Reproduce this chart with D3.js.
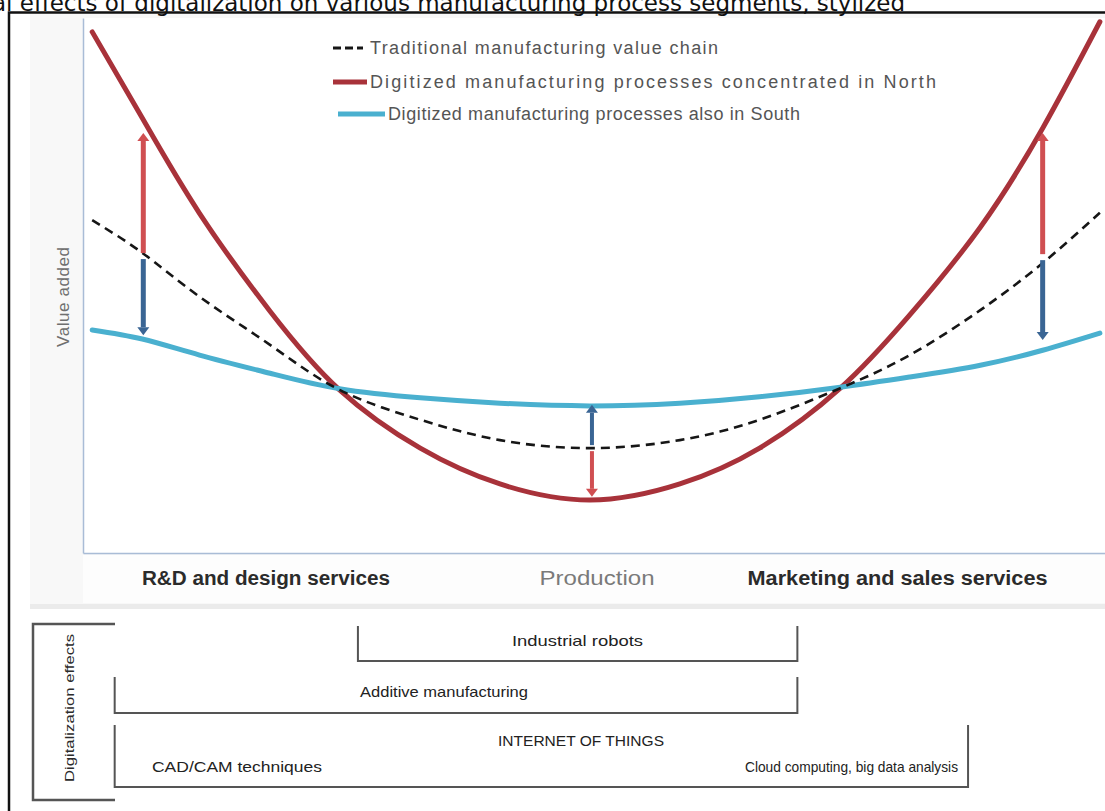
<!DOCTYPE html>
<html>
<head>
<meta charset="utf-8">
<script src="https://cdn.jsdelivr.net/npm/d3@7"></script>
<style>
  body { margin: 0; background: #fff; }
  svg { display: block; }
</style>
</head>
<body>
<svg width="1105" height="811"></svg>
<script>
// **** Values ****
var chainPos    = [0.9, 5.8, 11.4, 18.3, 25.1, 33.0, 40.8, 49.6, 58.4, 66.2, 74.1, 80.9, 87.8, 93.9, 99.5];
var traditional = [62.2, 56.1, 47.9, 38.9, 30.5, 24.9, 21.1, 19.6, 21.1, 24.9, 30.8, 37.0, 45.4, 54.2, 63.6];
var north       = [97.4, 81.3, 63.5, 45.2, 30.5, 19.6, 12.9, 9.9, 12.9, 19.6, 30.8, 44.5, 60.9, 79.4, 99.3];
var south       = [41.7, 40.0, 37.0, 33.6, 30.7, 29.0, 28.0, 27.5, 28.0, 29.2, 31.0, 32.9, 35.1, 37.9, 41.1];

var arrowPos   = [5.9, 49.8, 93.9];
var arrowBase  = [55.5, 19.6, 55.3];
var arrowNorth = [78.5, 10.5, 78.5];
var arrowSouth = [40.7, 27.7, 39.8];

var segmentLabels = ["R&D and design services", "Production", "Marketing and sales services"];
var segmentPos    = [17.9, 50.3, 79.7];

var legendLabels = ["Traditional manufacturing value chain",
                    "Digitized manufacturing processes concentrated in North",
                    "Digitized manufacturing processes also in South"];

var effectLabels = ["Industrial robots", "Additive manufacturing", "INTERNET OF THINGS"];
var effectStart  = [26.9, 3.1, 3.1];
var effectEnd    = [69.9, 69.9, 86.6];
var iotSubLabels = ["CAD/CAM techniques", "Cloud computing, big data analysis"];

var titleText = "Potential effects of digitalization on various manufacturing process segments, stylized";

// **** Scales ****
var xScale = d3.scaleLinear().domain([0, 100]).range([83, 1105]);
var yScale = d3.scaleLinear().domain([0, 100]).range([553, 18]);

var svg = d3.select('svg');

// **** Frame and panels ****
svg.append('rect').attr('x', 30).attr('y', 14).attr('width', 1075).attr('height', 591)
    .attr('fill', '#f8f8f8');
svg.append('rect').attr('x', 83).attr('y', 18).attr('width', 1022).attr('height', 535)
    .attr('fill', '#ffffff');
svg.append('rect').attr('x', 83).attr('y', 555).attr('width', 1022).attr('height', 48)
    .attr('fill', '#fdfdfd');
svg.append('rect').attr('x', 30).attr('y', 604).attr('width', 1075).attr('height', 5)
    .attr('fill', '#ebebeb');

svg.append('text')
    .attr('x', 905).attr('y', 11)
    .attr('text-anchor', 'end')
    .attr('font-family', 'DejaVu Sans')
    .attr('font-size', 23)
    .attr('fill', '#111')
    .text(titleText);

svg.append('rect').attr('x', 9).attr('y', 12.5).attr('width', 1200).attr('height', 900)
    .attr('fill', 'none').attr('stroke', '#111').attr('stroke-width', 2.5);

// **** Axes (plain frame lines) ****
svg.append('g').attr('class', 'y axis')
    .attr('transform', 'translate(83,0)')
    .call(d3.axisLeft(yScale).ticks(0).tickSizeOuter(0))
    .select('.domain').attr('stroke', '#a9bcd6').attr('stroke-width', 1.5);

svg.append('g').attr('class', 'x axis')
    .attr('transform', 'translate(0,553)')
    .call(d3.axisBottom(xScale).ticks(0).tickSizeOuter(0))
    .select('.domain').attr('stroke', '#a9bcd6').attr('stroke-width', 1.5);

svg.append('text')
    .attr('transform', 'translate(69, 297) rotate(-90)')
    .attr('text-anchor', 'middle')
    .attr('font-family', 'Liberation Sans')
    .attr('font-size', 17)
    .attr('fill', '#6f6f6f')
    .attr('textLength', 100)
    .text('Value added');

// **** Curves ****
var line = d3.line()
    .x(function (d) { return xScale(d[0]); })
    .y(function (d) { return yScale(d[1]); })
    .curve(d3.curveNatural);

function zipSeries(values) {
    return chainPos.map(function (p, i) { return [p, values[i]]; });
}

svg.append('path').datum(zipSeries(north))
    .attr('d', line).attr('fill', 'none')
    .attr('stroke', '#a8323a').attr('stroke-width', 5).attr('stroke-linecap', 'round');

svg.append('path').datum(zipSeries(south))
    .attr('d', line).attr('fill', 'none')
    .attr('stroke', '#4ab0cf').attr('stroke-width', 5).attr('stroke-linecap', 'round');

svg.append('path').datum(zipSeries(traditional))
    .attr('d', line).attr('fill', 'none')
    .attr('stroke', '#161616').attr('stroke-width', 2.6).attr('stroke-dasharray', '9,6');

// **** Shift arrows ****
function drawArrow(x, yFrom, yTo, color, width) {
    var dir = yTo < yFrom ? -1 : 1;
    var head = 8;
    svg.append('line')
        .attr('x1', x).attr('x2', x)
        .attr('y1', yFrom).attr('y2', yTo - dir * head)
        .attr('stroke', color).attr('stroke-width', width);
    svg.append('path')
        .attr('d', 'M' + (x - 6) + ',' + (yTo - dir * head) + 'L' + (x + 6) + ',' + (yTo - dir * head) + 'L' + x + ',' + yTo + 'Z')
        .attr('fill', color);
}

arrowPos.forEach(function (p, i) {
    var x = xScale(p);
    var base = yScale(arrowBase[i]);
    var yN = yScale(arrowNorth[i]);
    var yS = yScale(arrowSouth[i]);
    var w = i === 1 ? 4 : 5;
    drawArrow(x, base + (yN < base ? -3 : 3), yN, '#d04f52', w);
    drawArrow(x, base + (yS < base ? -3 : 3), yS, '#3a6594', w);
});

// **** Legend ****
var legendY = [48, 82, 114];
var legendWidths = [348, 566, 412];
var legendStartX = [370, 370, 388];

legendLabels.forEach(function (label, i) {
    var ls = svg.append('line')
        .attr('x1', i === 2 ? 338 : 333).attr('x2', legendStartX[i] - 3)
        .attr('y1', legendY[i]).attr('y2', legendY[i]);
    if (i === 0) {
        ls.attr('stroke', '#161616').attr('stroke-width', 3).attr('stroke-dasharray', '8,4').attr('x2', 363);
    } else if (i === 1) {
        ls.attr('stroke', '#a8323a').attr('stroke-width', 5);
    } else {
        ls.attr('stroke', '#4ab0cf').attr('stroke-width', 5);
    }
    svg.append('text')
        .attr('x', legendStartX[i]).attr('y', legendY[i] + 6)
        .attr('font-family', 'Liberation Sans')
        .attr('font-size', 18)
        .attr('fill', '#555')
        .attr('textLength', legendWidths[i])
        .attr('lengthAdjust', 'spacing')
        .text(label);
});

// **** Segment labels ****
var segmentWidths = [248, 115, 300];
segmentLabels.forEach(function (label, i) {
    svg.append('text')
        .attr('x', xScale(segmentPos[i]) - segmentWidths[i] / 2).attr('y', 585)
        .attr('font-family', 'Liberation Sans')
        .attr('font-size', 20)
        .attr('font-weight', i === 1 ? 'normal' : 'bold')
        .attr('fill', i === 1 ? '#7a7a7a' : '#2b2b2b')
        .attr('textLength', segmentWidths[i])
        .attr('lengthAdjust', 'spacingAndGlyphs')
        .text(label);
});

// **** Digitalization effects ****
var rowTop = [626, 677, 725];
var rowBottom = [661, 713, 787];

effectLabels.forEach(function (label, i) {
    var x0 = xScale(effectStart[i]);
    var x1 = xScale(effectEnd[i]);
    svg.append('path')
        .attr('d', 'M' + x0 + ',' + rowTop[i] + 'V' + rowBottom[i] + 'H' + x1 + 'V' + rowTop[i])
        .attr('fill', 'none').attr('stroke', '#555').attr('stroke-width', 2);
});

var effText = svg.append('g')
    .attr('font-family', 'Liberation Sans')
    .attr('font-size', 15)
    .attr('fill', '#222');

function effLabel(text, x, y, w) {
    effText.append('text').attr('x', x).attr('y', y)
        .attr('textLength', w).attr('lengthAdjust', 'spacingAndGlyphs')
        .text(text);
}

effLabel(effectLabels[0], 512, 646, 131);
effLabel(effectLabels[1], 360, 697, 168);
effLabel(effectLabels[2], 498, 746, 166);
effLabel(iotSubLabels[0], 152, 772, 170);
effLabel(iotSubLabels[1], 745, 772, 213);

svg.append('path')
    .attr('d', 'M115,624H33V800H115')
    .attr('fill', 'none').attr('stroke', '#555').attr('stroke-width', 2.5);

svg.append('text')
    .attr('transform', 'translate(74, 708) rotate(-90)')
    .attr('text-anchor', 'middle')
    .attr('font-family', 'Liberation Sans')
    .attr('font-size', 13)
    .attr('fill', '#2b2b2b')
    .attr('textLength', 148)
    .attr('lengthAdjust', 'spacingAndGlyphs')
    .text('Digitalization effects');
</script>
</body>
</html>
